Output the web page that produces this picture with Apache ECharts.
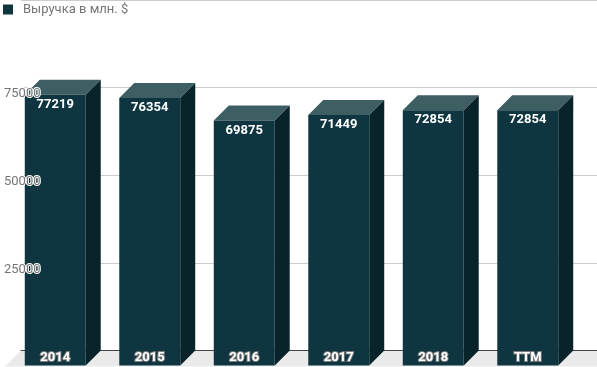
<!DOCTYPE html>
<html><head><meta charset="utf-8">
<script src="https://cdn.jsdelivr.net/npm/echarts@6/dist/echarts.min.js"></script>
<style>html,body{margin:0;padding:0;background:#fff}#c{width:597px;height:367px}</style>
</head><body><div id="c"></div>
<script>
var categories = ['2014', '2015', '2016', '2017', '2018', 'TTM'];
var revenue = [77219, 76354, 69875, 71449, 72854, 72854];
var seriesName = 'Выручка в млн. $';
var yTicks = [0, 25000, 50000, 75000, 100000];

var FRONT = '#0e3540', SIDE = '#09232a', TOPC = '#3d5f63';
var DEPTH = 15, BAR_RATIO = 0.645;
var FONT = 'Roboto';

var chart = echarts.init(document.getElementById('c'), null, {renderer: 'canvas'});

function renderBar(params, api) {
  var cat = api.value(0), val = api.value(1);
  var base = api.coord([cat, 0]);
  var top = api.coord([cat, val]);
  var band = api.size([1, 0])[0];
  var w = band * BAR_RATIO, d = DEPTH;
  var x0 = top[0] - w / 2, x1 = top[0] + w / 2, y = top[1], y0 = base[1];
  return {type: 'group', children: [
    {type: 'polygon', shape: {points: [[x0 - d, y + d], [x1 - d, y + d], [x1, y], [x0, y]]}, style: {fill: TOPC}},
    {type: 'polygon', shape: {points: [[x1 - d, y + d], [x1, y], [x1, y0], [x1 - d, y0 + d]]}, style: {fill: SIDE}},
    {type: 'rect', shape: {x: x0 - d, y: y + d, width: w, height: y0 - y}, style: {fill: FRONT}},
    {type: 'text', style: {text: String(val), x: x0 - d + w / 2, y: y + d + 10, align: 'center', verticalAlign: 'middle',
      fill: '#fff', font: 'bold 13px ' + FONT}},
    {type: 'text', style: {text: categories[cat], x: x0 - d + w / 2, y: y0 + 7, align: 'center', verticalAlign: 'middle',
      fill: '#fff', font: 'bold 13px ' + FONT, stroke: '#7a7a7a', lineWidth: 2}}
  ]};
}

function renderFloor(params, api) {
  var cs = params.coordSys;
  var y0 = api.coord([0, 0])[1];
  var d = DEPTH + 1;
  return {type: 'polygon', shape: {points: [[cs.x, y0], [cs.x + cs.width + 30, y0], [cs.x + cs.width + 30, y0 + d], [cs.x - d, y0 + d]]},
    style: {fill: '#eaeaea'}};
}

var option = {
  animation: false,
  textStyle: {fontFamily: FONT},
  legend: {
    data: [seriesName], left: 3, top: 3, padding: 0, icon: 'rect', itemWidth: 10, itemHeight: 10,
    textStyle: {color: '#757575', fontSize: 13, fontFamily: FONT, padding: [0, 0, 0, 5]}
  },
  grid: [
    {left: 20, right: 0, top: -2.6, bottom: 16.4},
    {left: 23, width: 567, top: -2.6, bottom: 16.4}
  ],
  xAxis: [
    {gridIndex: 0, type: 'value', min: 0, max: 1, show: true, z: 2,
      axisLine: {show: true, lineStyle: {color: '#444', width: 1}}, axisTick: {show: false}, axisLabel: {show: false}, splitLine: {show: false}},
    {gridIndex: 1, type: 'category', data: categories, show: false}
  ],
  yAxis: [
    {gridIndex: 0, type: 'value', min: yTicks[0], max: yTicks[yTicks.length - 1], interval: yTicks[1] - yTicks[0], z: 10,
      axisLine: {show: false}, axisTick: {show: false}, splitLine: {show: false},
      axisLabel: {color: '#757575', fontSize: 13, fontFamily: FONT, align: 'right', margin: -19.5,
        verticalAlign: 'top', textBorderColor: '#fff', textBorderWidth: 2,
        formatter: function (v) { return v === 0 || v === 100000 ? '' : String(v); }}},
    {gridIndex: 1, type: 'value', min: yTicks[0], max: yTicks[yTicks.length - 1], show: false},
    {gridIndex: 0, type: 'value', position: 'left', offset: 0, min: yTicks[0], max: yTicks[yTicks.length - 1], interval: yTicks[1] - yTicks[0], z: 0,
      axisLine: {show: false}, axisTick: {show: false}, axisLabel: {show: false},
      splitLine: {show: true, lineStyle: {color: '#cccccc', width: 1}}}
  ],
  series: [
    {type: 'custom', xAxisIndex: 0, yAxisIndex: 0, z: 1, silent: true, data: [[0, 0]], renderItem: renderFloor},
    {name: seriesName, type: 'custom', xAxisIndex: 1, yAxisIndex: 1, z: 3, itemStyle: {color: FRONT},
      data: revenue.map(function (v, i) { return [i, v]; }), renderItem: renderBar}
  ]
};
chart.setOption(option);
</script></body></html>
